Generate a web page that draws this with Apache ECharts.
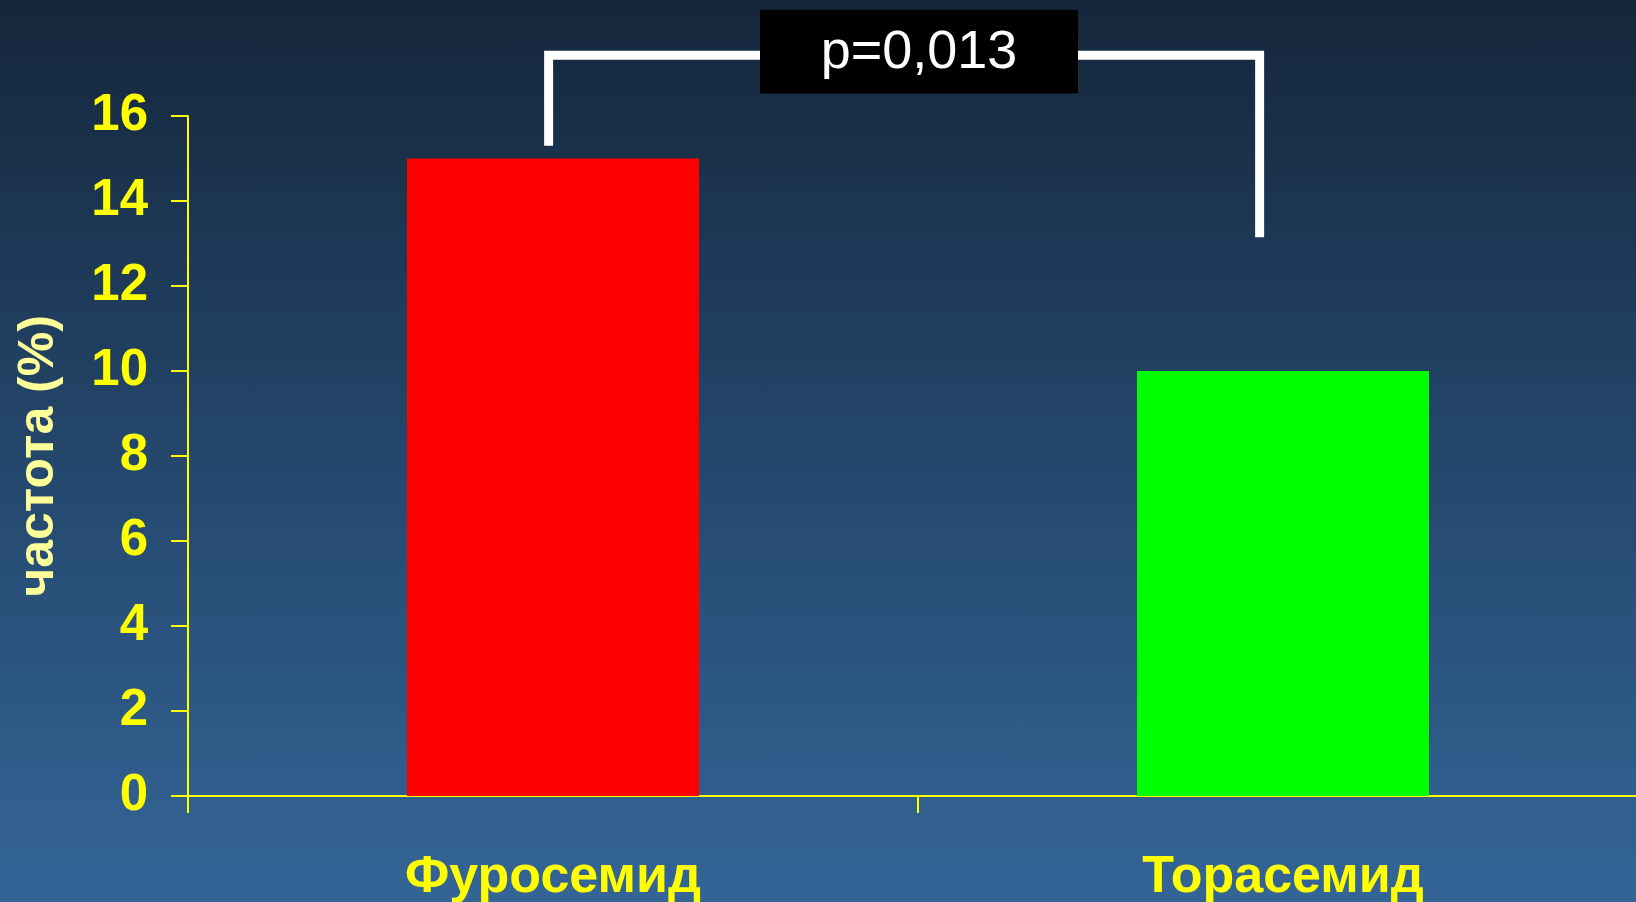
<!DOCTYPE html>
<html>
<head>
<meta charset="utf-8">
<title>Частота</title>
<script src="https://cdn.jsdelivr.net/npm/echarts@6/dist/echarts.min.js"></script>
<style>
  html, body { margin: 0; padding: 0; }
  #chart {
    width: 1636px;
    height: 902px;
    background: linear-gradient(to bottom, #15263b 0%, #254a70 55%, #346597 100%);
  }
</style>
</head>
<body>
<div id="chart"></div>
<script>
// Drug groups and event frequency (%)
const categories = ['Фуросемид', 'Торасемид'];
const frequency = [15, 10];
const barColors = ['#ff0000', '#00ff00'];

// Value axis range
const yMin = 0;
const yMax = 16;
const yStep = 2;

// Significance bracket: leg ends and top bar (in axis units), label text
const bracketLegs = [15.3, 13.15];
const bracketTop = 17.43;
const bracketLabelBox = [16.53, 18.5];
const pValueText = 'p=0,013';

const yellow = '#ffff00';
const font = '"Liberation Sans", Arial, sans-serif';

const chart = echarts.init(document.getElementById('chart'), null, { renderer: 'canvas' });

chart.setOption({
  animation: false,
  backgroundColor: 'transparent',
  grid: { left: 188, top: 116, bottom: 106, width: 1460, containLabel: false, outerBoundsMode: 'none' },
  xAxis: {
    type: 'category',
    data: categories,
    boundaryGap: true,
    axisLine: { show: true, lineStyle: { color: yellow, width: 2 } },
    axisTick: { show: true, length: 17, lineStyle: { color: yellow, width: 2 } },
    axisLabel: {
      color: yellow, fontSize: 52, fontWeight: 'bold', fontFamily: font, margin: 56
    },
    splitLine: { show: false }
  },
  yAxis: {
    type: 'value',
    min: yMin,
    max: yMax,
    interval: yStep,
    name: 'частота (%)',
    nameLocation: 'middle',
    nameRotate: 90,
    nameGap: 124,
    nameTextStyle: {
      color: '#ffff99', fontSize: 50, fontWeight: 'bold', fontFamily: font
    },
    axisLine: { show: true, lineStyle: { color: yellow, width: 2 } },
    axisTick: { show: true, length: 17, lineStyle: { color: yellow, width: 2 } },
    axisLabel: {
      color: yellow, fontSize: 51, fontWeight: 'bold', fontFamily: font, margin: 40
    },
    splitLine: { show: false }
  },
  series: [
    {
      type: 'bar',
      barWidth: '40%',
      data: frequency.map((v, i) => ({ value: v, itemStyle: { color: barColors[i] } }))
    },
    {
      // Bracket with the p-value box between the two groups
      type: 'custom',
      clip: false,
      silent: true,
      z: 5,
      data: [[0, 1]],
      renderItem: function (params, api) {
        const band = api.size([1, 0])[0];
        const c0 = api.coord([0, 0]);
        const c1 = api.coord([1, 0]);
        const xl = c0[0] - 0.006 * band;
        const xr = c1[0] - 0.032 * band;
        const yl = api.coord([0, bracketLegs[0]])[1];
        const yr = api.coord([1, bracketLegs[1]])[1];
        const yt = api.coord([0, bracketTop])[1];
        const boxTop = api.coord([0, bracketLabelBox[1]])[1];
        const boxBottom = api.coord([0, bracketLabelBox[0]])[1];
        const boxCx = (c0[0] + c1[0]) / 2 + 1;
        const boxW = 318;
        return {
          type: 'group',
          children: [
            {
              type: 'polyline',
              shape: { points: [[xl, yl], [xl, yt], [xr, yt], [xr, yr]] },
              style: { stroke: '#ffffff', lineWidth: 9, fill: null, lineJoin: 'miter', lineCap: 'butt' }
            },
            {
              type: 'rect',
              shape: { x: boxCx - boxW / 2, y: boxTop, width: boxW, height: boxBottom - boxTop },
              style: { fill: '#000000' }
            },
            {
              type: 'text',
              x: boxCx,
              y: (boxTop + boxBottom) / 2 + 1,
              style: {
                text: pValueText,
                fill: '#ffffff',
                font: 'normal 54px ' + font,
                textAlign: 'center',
                textVerticalAlign: 'middle'
              }
            }
          ]
        };
      }
    }
  ]
});
</script>
</body>
</html>
